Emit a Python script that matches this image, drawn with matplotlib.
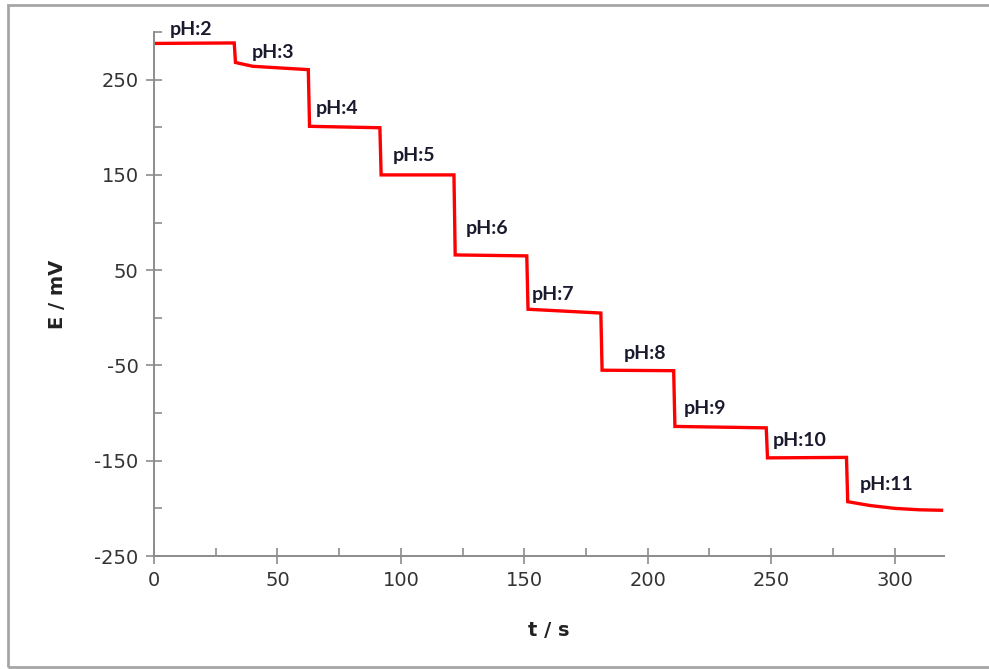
import matplotlib
matplotlib.use("Agg")
import matplotlib.pyplot as plt
from matplotlib.patches import Rectangle
from matplotlib.ticker import MultipleLocator

plt.rcParams["font.family"] = ["DejaVu Sans"]
plt.rcParams["axes.unicode_minus"] = False

# Potential trace recorded while stepping through buffer solutions
time_s = [0, 32.5, 33, 40, 62.5, 63, 91.5, 92, 121.5, 122, 151, 151.5, 181,
          181.5, 210.5, 211, 248, 248.5, 280.5, 281, 290, 300, 310, 319]
potential_mV = [288, 288.5, 268, 264, 260.5, 201, 199.5, 150, 150, 66, 65, 9, 5,
                -55, -55.5, -114, -115.5, -147, -146.5, -193, -197, -200, -201.5, -202]

ph_labels = ["pH:2", "pH:3", "pH:4", "pH:5", "pH:6", "pH:7", "pH:8", "pH:9", "pH:10", "pH:11"]

# Where each pH label sits (data coordinates, left edge / vertical centre)
label_t = [6.2, 39.5, 65.6, 96.9, 126.2, 153.2, 190.3, 214.6, 250.5, 285.8]
label_E = [302.5, 278, 220, 170, 94, 24.2, -37.8, -94.9, -129.2, -175.4]

fig = plt.figure(figsize=(9.89, 6.69), dpi=100)
ax = fig.add_axes([154 / 989, 1 - 556 / 669, (944 - 154) / 989, (556 - 32) / 669])

ax.plot(time_s, potential_mV, color="#ff0000", lw=2.4, solid_joinstyle="miter")

ax.set_xlim(0, 320)
ax.set_ylim(-250, 300)
ax.xaxis.set_major_locator(MultipleLocator(50))
ax.xaxis.set_minor_locator(MultipleLocator(25))
ax.set_yticks([-250, -150, -50, 50, 150, 250])
ax.yaxis.set_minor_locator(MultipleLocator(50))

axis_grey = "#8c8c8c"
for side in ("top", "right"):
    ax.spines[side].set_visible(False)
for side in ("left", "bottom"):
    ax.spines[side].set_color(axis_grey)
    ax.spines[side].set_linewidth(1.4)

ax.tick_params(which="major", direction="inout", length=12, width=1.2,
               color=axis_grey, labelsize=14, labelcolor="#333333", pad=5)
ax.tick_params(which="minor", direction="in", length=6, width=1.2, color=axis_grey)

ax.set_xlabel("t / s", fontsize=14, fontweight="bold", color="#222222", labelpad=22)
ax.set_ylabel("E / mV", fontsize=14, fontweight="bold", color="#222222", labelpad=20)

for txt, tx, ty in zip(ph_labels, label_t, label_E):
    ax.text(tx, ty, txt, ha="left", va="center", fontsize=14,
            fontweight="bold", family="Lato", color="#1a1a2e", clip_on=False)

# Outer frame around the chart area
fig.patches.append(Rectangle((8 / 989, 2 / 669), 1.2, 1 - 7 / 669,
                             transform=fig.transFigure, fill=False,
                             edgecolor="#a6a6a6", lw=2, clip_on=False))

fig.savefig("out.png", dpi=100, facecolor="white")
